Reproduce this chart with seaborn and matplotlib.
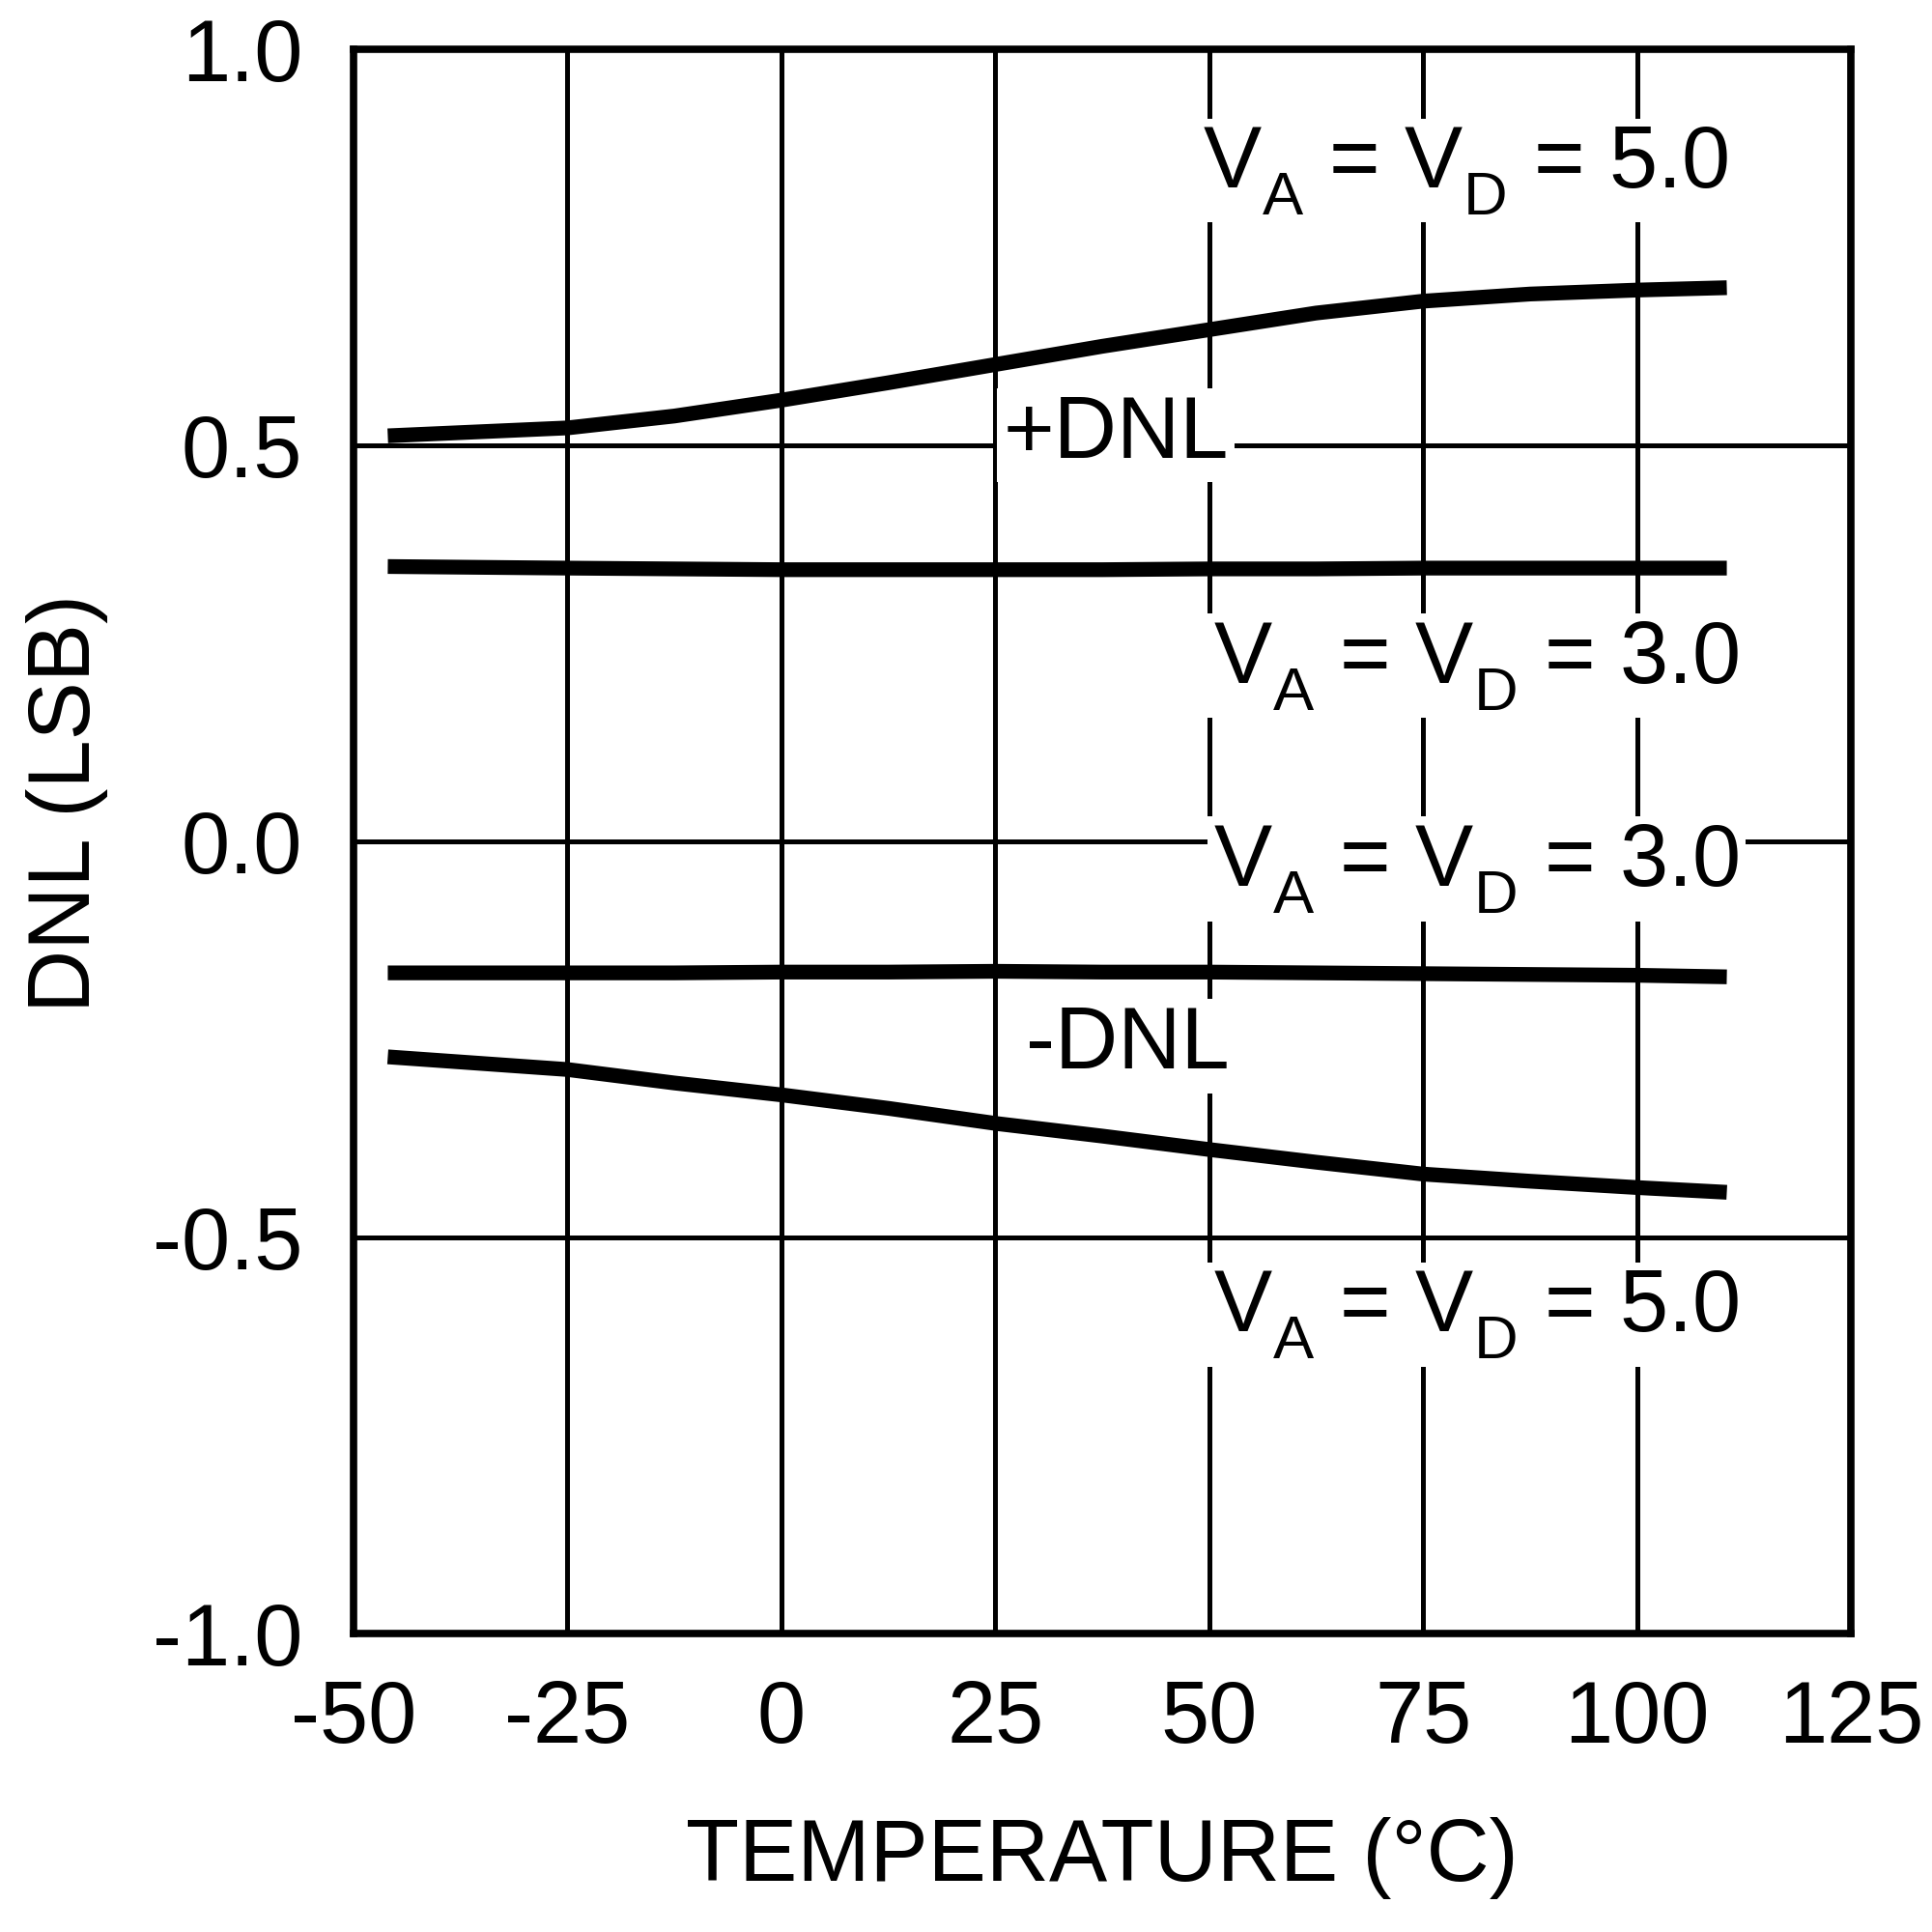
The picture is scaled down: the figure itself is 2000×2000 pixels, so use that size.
import matplotlib
matplotlib.use("Agg")
import matplotlib.pyplot as plt
from matplotlib import _mathtext
import pandas as pd
import seaborn as sns

# values
temps = [-46, -25, -12.5, 0, 12.5, 25, 37.5, 50, 62.5, 75, 87.5, 100, 110.5]
dnl_pos_5v = [0.512, 0.522, 0.537, 0.557, 0.579, 0.602, 0.625, 0.646, 0.667, 0.682, 0.691, 0.696, 0.699]
dnl_pos_3v = [0.347, 0.345, 0.344, 0.343, 0.343, 0.343, 0.343, 0.344, 0.344, 0.345, 0.345, 0.345, 0.345]
dnl_neg_3v = [-0.166, -0.166, -0.166, -0.165, -0.165, -0.164, -0.165, -0.165, -0.166, -0.167, -0.168, -0.169, -0.171]
dnl_neg_5v = [-0.272, -0.288, -0.305, -0.320, -0.337, -0.356, -0.372, -0.389, -0.405, -0.420, -0.429, -0.437, -0.443]

x_ticks = [-50, -25, 0, 25, 50, 75, 100, 125]
y_ticks = [-1.0, -0.5, 0.0, 0.5, 1.0]
y_tick_labels = ["-1.0", "-0.5", "0.0", "0.5", "1.0"]

sns.set_theme(style="white")
plt.rcParams["font.family"] = ["Liberation Sans", "DejaVu Sans"]
plt.rcParams["axes.unicode_minus"] = False
# drop the V_A / V_D subscripts a bit lower, like the datasheet lettering
_mathtext.FontConstantsBase.sub1 = 0.57

fig = plt.figure(figsize=(20, 20), dpi=100)
ax = fig.add_axes([0.183, 0.1545, 0.775, 0.82])

series = {"+5V": dnl_pos_5v, "+3V": dnl_pos_3v, "-3V": dnl_neg_3v, "-5V": dnl_neg_5v}
for name, vals in series.items():
    df = pd.DataFrame({"temp": temps, "dnl": vals})
    sns.lineplot(data=df, x="temp", y="dnl", ax=ax, color="black", linewidth=11,
                 estimator=None, sort=False, zorder=4)
for ln in ax.get_lines():
    ln.set_solid_capstyle("butt")
    ln.set_solid_joinstyle("round")

ax.set_xlim(-50, 125)
ax.set_ylim(-1.0, 1.0)
ax.set_xticks(x_ticks)
ax.set_xticklabels([str(t) for t in x_ticks])
ax.set_yticks(y_ticks)
ax.set_yticklabels(y_tick_labels)
ax.tick_params(axis="both", length=0, labelsize=65, colors="black")
ax.tick_params(axis="x", pad=34)
ax.tick_params(axis="y", pad=38)

ax.set_axisbelow(True)
ax.grid(True, color="black", linewidth=3.6)
for sp in ax.spines.values():
    sp.set_visible(True)
    sp.set_color("black")
    sp.set_linewidth(5.5)

ax.set_xlabel("TEMPERATURE (°C)", fontsize=65, color="black")
ax.set_ylabel("DNL (LSB)", fontsize=65, color="black")
ax.xaxis.set_label_coords(0.5, -0.116)
ax.yaxis.set_label_coords(-0.164, 0.524)

box = dict(boxstyle="square,pad=0.07", fc="white", ec="none")
lab5 = r"V$_\mathregular{A}$ = V$_\mathregular{D}$ = 5.0"
lab3 = r"V$_\mathregular{A}$ = V$_\mathregular{D}$ = 3.0"
notes = [
    (49.2, 0.826, lab5),
    (25.9, 0.484, "+DNL"),
    (50.5, 0.201, lab3),
    (50.5, -0.056, lab3),
    (28.6, -0.287, "-DNL"),
    (50.5, -0.618, lab5),
]
for x, y, s in notes:
    ax.text(x, y, s, fontsize=65, ha="left", va="baseline", color="black",
            bbox=box, zorder=3)

fig.savefig("out.png", dpi=100, facecolor="white")
